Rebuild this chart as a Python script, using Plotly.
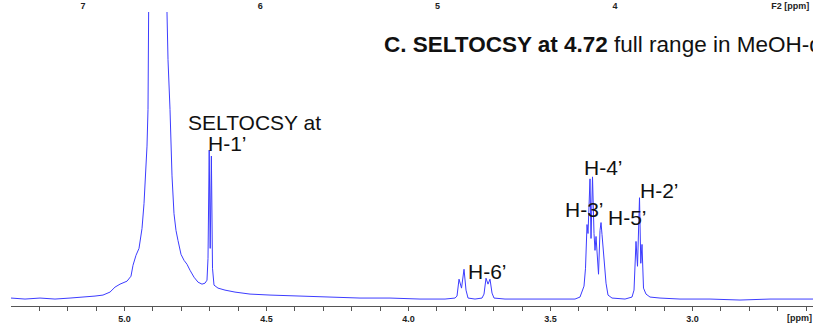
import plotly.graph_objects as go

# Spectrum: chemical shift (ppm) and intensity (arbitrary units)
ppm = [5.3993, 5.3500, 5.2972, 5.2444, 5.1915, 5.1387, 5.1035, 5.0754, 5.0507, 5.0331,
       5.0155, 4.9908, 4.9768, 4.9697, 4.9592, 4.9486, 4.9380, 4.9310, 4.9275, 4.9204,
       4.9169, 4.9134, 4.9099, 4.8799, 4.8500, 4.8465, 4.8394, 4.8324, 4.8254, 4.8183,
       4.8113, 4.8007, 4.7901, 4.7796, 4.7690, 4.7549, 4.7408, 4.7268, 4.7162, 4.7092,
       4.7056, 4.7014, 4.6979, 4.6937, 4.6898, 4.6845, 4.6704, 4.6458, 4.6106, 4.5577,
       4.4873, 4.3817, 4.2761, 4.1704, 4.0648, 3.9592, 3.8711, 3.8359, 3.8289, 3.8218,
       3.8130, 3.8042, 3.7972, 3.7901, 3.7655, 3.7408, 3.7338, 3.7268, 3.7197, 3.7127,
       3.7056, 3.6986, 3.6599, 3.5718, 3.4838, 3.4134, 3.3958, 3.3852, 3.3817, 3.3764,
       3.3711, 3.3676, 3.3641, 3.3606, 3.3570, 3.3518, 3.3465, 3.3430, 3.3394, 3.3359,
       3.3306, 3.3254, 3.3218, 3.3183, 3.3113, 3.3042, 3.2972, 3.2831, 3.2373, 3.2127,
       3.2056, 3.1986, 3.1933, 3.1863, 3.1817, 3.1775, 3.1722, 3.1634, 3.1493, 3.1141,
       3.0437, 2.9380, 2.8324, 2.7268, 2.6211, 2.5754]
intensity = [1, 0, 1, 0, 1, 2, 3, 4, 7, 12,
             15, 18, 23, 34, 44, 51, 71, 96, 114, 154,
             191, 241, 288, 1801, 288, 241, 191, 124, 86, 69,
             59, 45, 39, 35, 29, 22, 17, 15, 16, 19,
             41, 150, 51, 144, 31, 14, 11, 9, 7, 5,
             4, 3, 2, 1, 1, 0, 0, 1, 3, 20,
             11, 30, 9, 1, 0, 1, 5, 21, 15, 20,
             6, 1, 0, 0, 0, 0, 2, 9, 13, 31,
             75, 66, 89, 121, 61, 123, 66, 49, 63, 43,
             25, 69, 77, 65, 39, 16, 4, 1, 0, 2,
             9, 58, 33, 102, 36, 55, 11, 5, 2, 1,
             0, 0, -1, 0, 0, 0]

bottom_ticks_major = 0.5
bottom_ticks_minor = 0.1
top_tickvals = [7, 6, 5, 4, 3.012]
top_ticktext = ["7", "6", "5", "4", "F2 [ppm]"]

# label texts and their pixel centres
labels = [("SELTOCSY at", 255, 123), ("H-1\u2019", 227, 144), ("H-4\u2019", 603, 169),
          ("H-3\u2019", 584, 211), ("H-5\u2019", 627, 219), ("H-2\u2019", 659, 192),
          ("H-6\u2019", 487, 273)]

W, H = 813, 324
ML, MR, MT, MB = 11, 0, 12, 16
PW, PH = W - ML - MR, H - MT - MB

def px(x):
    return (x - ML) / PW

def py(y):
    return (H - MB - y) / PH

FONT = "Liberation Sans, Arial, sans-serif"

fig = go.Figure()
fig.add_trace(go.Scatter(x=ppm, y=intensity, mode="lines",
                         line=dict(color="#3c3cff", width=1), hoverinfo="skip",
                         showlegend=False))
fig.add_trace(go.Scatter(x=top_tickvals, y=[None] * len(top_tickvals), xaxis="x2",
                         mode="lines", showlegend=False, hoverinfo="skip"))

ann = []
for t, x, y in labels:
    ann.append(dict(text=t, x=px(x), y=py(y), xref="paper", yref="paper",
                    xanchor="center", yanchor="middle", showarrow=False,
                    font=dict(family=FONT, size=21, color="#111")))
ann.append(dict(text="<b>C. SELTOCSY at 4.72</b> full range in MeOH-d<sub>4</sub>",
                x=px(382), y=py(46), xref="paper", yref="paper", xanchor="left",
                yanchor="middle", showarrow=False,
                font=dict(family=FONT, size=22.5, color="#111")))
ann.append(dict(text="<b>[ppm]</b>", x=px(799), y=py(320), xref="paper", yref="paper",
                xanchor="center", yanchor="middle", showarrow=False,
                font=dict(family=FONT, size=9, color="#222")))

fig.update_layout(
    width=W, height=H,
    margin=dict(l=ML, r=MR, t=MT, b=MB),
    paper_bgcolor="white", plot_bgcolor="white",
    xaxis=dict(range=[5.3993, 2.5754], showline=True, linecolor="#555", linewidth=1,
               ticks="outside", ticklen=4, tickcolor="#555", tick0=0,
               dtick=bottom_ticks_major, tickformat=".1f",
               tickfont=dict(family=FONT, size=9, color="#222", weight="bold"),
               minor=dict(ticks="outside", ticklen=4, tickcolor="#555", tick0=0,
                          dtick=bottom_ticks_minor),
               showgrid=False, zeroline=False),
    xaxis2=dict(range=[7.406, 2.883], overlaying="x", side="top", anchor="y",
                tickmode="array", tickvals=top_tickvals, ticktext=top_ticktext,
                ticks="", showline=False, showgrid=False, zeroline=False,
                tickfont=dict(family=FONT, size=9, color="#222", weight="bold")),
    yaxis=dict(range=[-7, 289], visible=False, showgrid=False, zeroline=False),
    annotations=ann,
)

fig.write_html("out.html")
